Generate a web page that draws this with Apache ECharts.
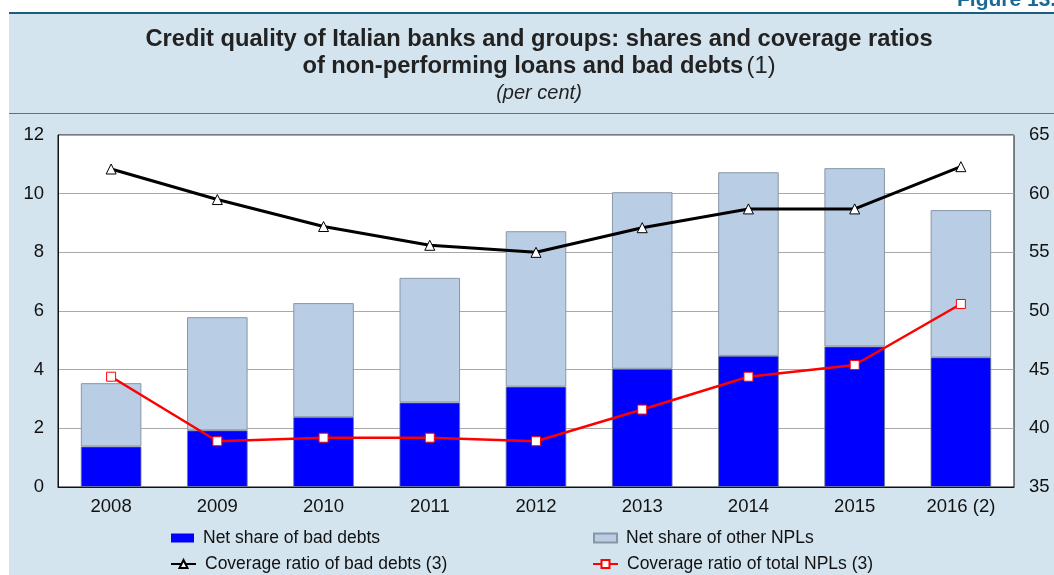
<!DOCTYPE html>
<html>
<head>
<meta charset="utf-8">
<script src="https://cdn.jsdelivr.net/npm/echarts@6/dist/echarts.min.js"></script>
<style>
  html, body { margin: 0; padding: 0; background: #ffffff; }
  #chart { width: 1054px; height: 575px; }
</style>
</head>
<body>
<div id="chart"></div>
<script>
// Categories (years) and series values, in per cent
const years = ['2008', '2009', '2010', '2011', '2012', '2013', '2014', '2015', '2016 (2)'];
const badDebtShare = [1.38, 1.93, 2.38, 2.88, 3.42, 4.03, 4.47, 4.79, 4.42];
const otherNplShare = [2.16, 3.86, 3.89, 4.25, 5.30, 6.02, 6.26, 6.08, 5.02];
const badDebtCoverage = [62.1, 59.5, 57.2, 55.6, 55.0, 57.1, 58.7, 58.7, 62.3];
const totalNplCoverage = [44.4, 38.9, 39.2, 39.2, 38.9, 41.6, 44.4, 45.4, 50.6];

const FONT = "'Liberation Sans', Arial, Helvetica, sans-serif";
const PANEL = '#d3e4ee';
const LABEL_SIZE = 18.5;

const chart = echarts.init(document.getElementById('chart'), null, { renderer: 'canvas' });

function legendAt(name, left, top, iw, ih, icon, itemStyle) {
  const lg = {
    data: [icon ? { name: name, icon: icon } : name],
    left: left,
    top: top,
    orient: 'horizontal',
    itemWidth: iw,
    itemHeight: ih,
    selectedMode: false,
    padding: 0,
    textStyle: { fontFamily: FONT, fontSize: 17.5, color: '#111', padding: [0, 0, 0, 4] }
  };
  if (itemStyle) lg.itemStyle = itemStyle;
  return lg;
}

chart.setOption({
  animation: false,
  backgroundColor: '#ffffff',
  textStyle: { fontFamily: FONT },
  graphic: [
    // light blue panel
    { type: 'rect', z: -10, shape: { x: 9, y: 13, width: 1050, height: 565 }, style: { fill: PANEL } },
    // heading rules
    { type: 'rect', z: -9, shape: { x: 9, y: 12, width: 1050, height: 2 }, style: { fill: '#1d5e7e' } },
    { type: 'rect', z: -9, shape: { x: 9, y: 113, width: 1050, height: 1 }, style: { fill: '#3b7e9f' } },
    // figure number (top-right)
    { type: 'text', x: 957, y: -10, style: { text: 'Figure 13.', font: "bold 21px " + FONT, fill: '#1b6a96' } },
    // title
    {
      type: 'text', x: 539, y: 26,
      style: {
        text: '{b|Credit quality of Italian banks and groups: shares and coverage ratios}\n{b|of non-performing loans and bad debts} {n|(1)}',
        align: 'center',
        rich: {
          b: { font: "bold 23.7px " + FONT, fill: '#222', lineHeight: 27 },
          n: { font: "23.7px " + FONT, fill: '#222', lineHeight: 27 }
        }
      }
    },
    { type: 'text', x: 539, y: 83, style: { text: '(per cent)', align: 'center', font: "italic 20px " + FONT, fill: '#222' } }
  ],
  grid: {
    left: 58, right: 40, top: 135, bottom: 88,
    show: true, backgroundColor: '#ffffff', borderColor: '#111', borderWidth: 1
  },
  legend: [
    legendAt('Net share of bad debts', 171, 529, 23, 9, 'rect', { borderWidth: 0 }),
    legendAt('Net share of other NPLs', 593, 529, 23, 9, 'rect'),
    legendAt('Coverage ratio of bad debts (3)', 170, 555, 25, 10),
    legendAt('Coverage ratio of total NPLs (3)', 592, 555, 25, 10)
  ],
  xAxis: {
    type: 'category',
    data: years,
    axisLine: { lineStyle: { color: '#111', width: 1 } },
    axisTick: { show: false },
    axisLabel: { fontFamily: FONT, fontSize: LABEL_SIZE, color: '#111', margin: 10 }
  },
  yAxis: [
    {
      type: 'value', min: 0, max: 12, interval: 2,
      axisLine: { show: true, lineStyle: { color: '#111' } },
      axisTick: { show: false },
      axisLabel: { fontFamily: FONT, fontSize: LABEL_SIZE, color: '#111', margin: 14 },
      splitLine: { lineStyle: { color: '#a9a9a9', width: 1 } }
    },
    {
      type: 'value', min: 35, max: 65, interval: 5, position: 'right',
      axisLine: { show: false },
      axisTick: { show: false },
      axisLabel: { fontFamily: FONT, fontSize: LABEL_SIZE, color: '#111', margin: 15 },
      splitLine: { show: false }
    }
  ],
  series: [
    {
      name: 'Net share of bad debts', type: 'bar', stack: 'npl', barWidth: '57%',
      data: badDebtShare,
      itemStyle: { color: '#0000ff', borderColor: '#6f7c8a', borderWidth: 0.8 }
    },
    {
      name: 'Net share of other NPLs', type: 'bar', stack: 'npl', barWidth: '57%',
      data: otherNplShare,
      itemStyle: { color: '#b9cde4', borderColor: '#8896a6', borderWidth: 1 }
    },
    {
      name: 'Coverage ratio of bad debts (3)', type: 'line', yAxisIndex: 1, z: 5,
      data: badDebtCoverage,
      symbol: 'triangle', symbolSize: 10,
      lineStyle: { color: '#000', width: 3 },
      itemStyle: { color: '#ffffff', borderColor: '#000', borderWidth: 1 }
    },
    {
      name: 'Coverage ratio of total NPLs (3)', type: 'line', yAxisIndex: 1, z: 6,
      data: totalNplCoverage,
      symbol: 'rect', symbolSize: 9,
      lineStyle: { color: '#ff0000', width: 2.5 },
      itemStyle: { color: '#ffffff', borderColor: '#ff0000', borderWidth: 1 }
    }
  ]
});
</script>
</body>
</html>
